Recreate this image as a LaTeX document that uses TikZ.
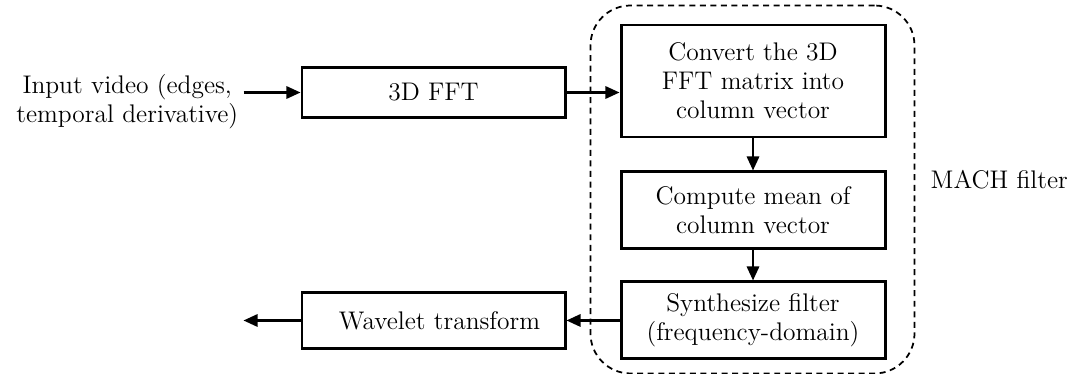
\documentclass[tikz,border=0pt]{standalone}
\usepackage{tikz}
\usetikzlibrary{arrows.meta, positioning, calc, fit}

\begin{document}
\begin{tikzpicture}[
  font=\fontsize{14.5}{16.5}\selectfont,
  block/.style = {draw, line width=1.7pt, minimum width=5.26cm, align=center, inner sep=0pt},
  arrow/.style = {line width=1.3pt, -{Triangle[length=8pt, width=7pt]}},
  machbox/.style = {draw, line width=1pt, dash pattern=on 3.4pt off 2.6pt, rounded corners=0.8cm, inner sep=0pt},
  node distance=0.64cm and 1.12cm
]
\useasboundingbox (0,0) rectangle (21.48,-7.48);

% ======================================================
% Front end: 3D FFT and wavelet transform
% ======================================================
\node[block, minimum height=1.0cm] (fft) at (8.67,-1.85) {3D FFT};
\node[block, minimum height=1.12cm, below=3.44cm of fft] (wavelet) {\hspace{0.24cm}Wavelet transform};

% Input video arrow into 3D FFT
\coordinate (vidin) at ($(fft.west)+(-1.14,0)$);
\node[left=0.1cm of vidin, yshift=-0.18cm, inner sep=0pt, align=center] (video) {Input video (edges,\\temporal derivative)};
\draw[arrow] (vidin) -- (fft.west);

% ======================================================
% MACH filter stages
% ======================================================
\node[block, minimum width=5.28cm, minimum height=2.24cm] (convert) at (15.06,-1.62) {Convert the 3D\\FFT matrix into\\column vector};
\node[block, minimum width=5.28cm, minimum height=1.54cm, below=0.64cm of convert] (mean) {Compute mean of\\column vector};
\node[block, minimum width=5.28cm, minimum height=1.54cm, below=0.60cm of mean] (synth) {Synthesize filter\\(frequency-domain)};

\draw[arrow] (fft.east) -- (fft.east -| convert.west);
\draw[arrow] (convert) -- (mean);
\draw[arrow] (mean) -- (synth);

% Dashed frame round the filter
\coordinate (machnw) at ($(convert.north west)+(-0.58,0.36)$);
\coordinate (machse) at ($(synth.south east)+(0.56,-0.26)$);
\node[machbox, fit=(machnw)(machse)] (mach) {};
\node[right=0.3cm of mach.east, yshift=0.19cm, inner sep=0pt] (machlabel) {MACH filter};

% ======================================================
% Output path
% ======================================================
\draw[arrow] (synth.west) -- (synth.west -| wavelet.east);
\coordinate (waveout) at ($(wavelet.west)+(-1.14,0)$);
\draw[arrow] (wavelet.west) -- (waveout);
\end{tikzpicture}
\end{document}
